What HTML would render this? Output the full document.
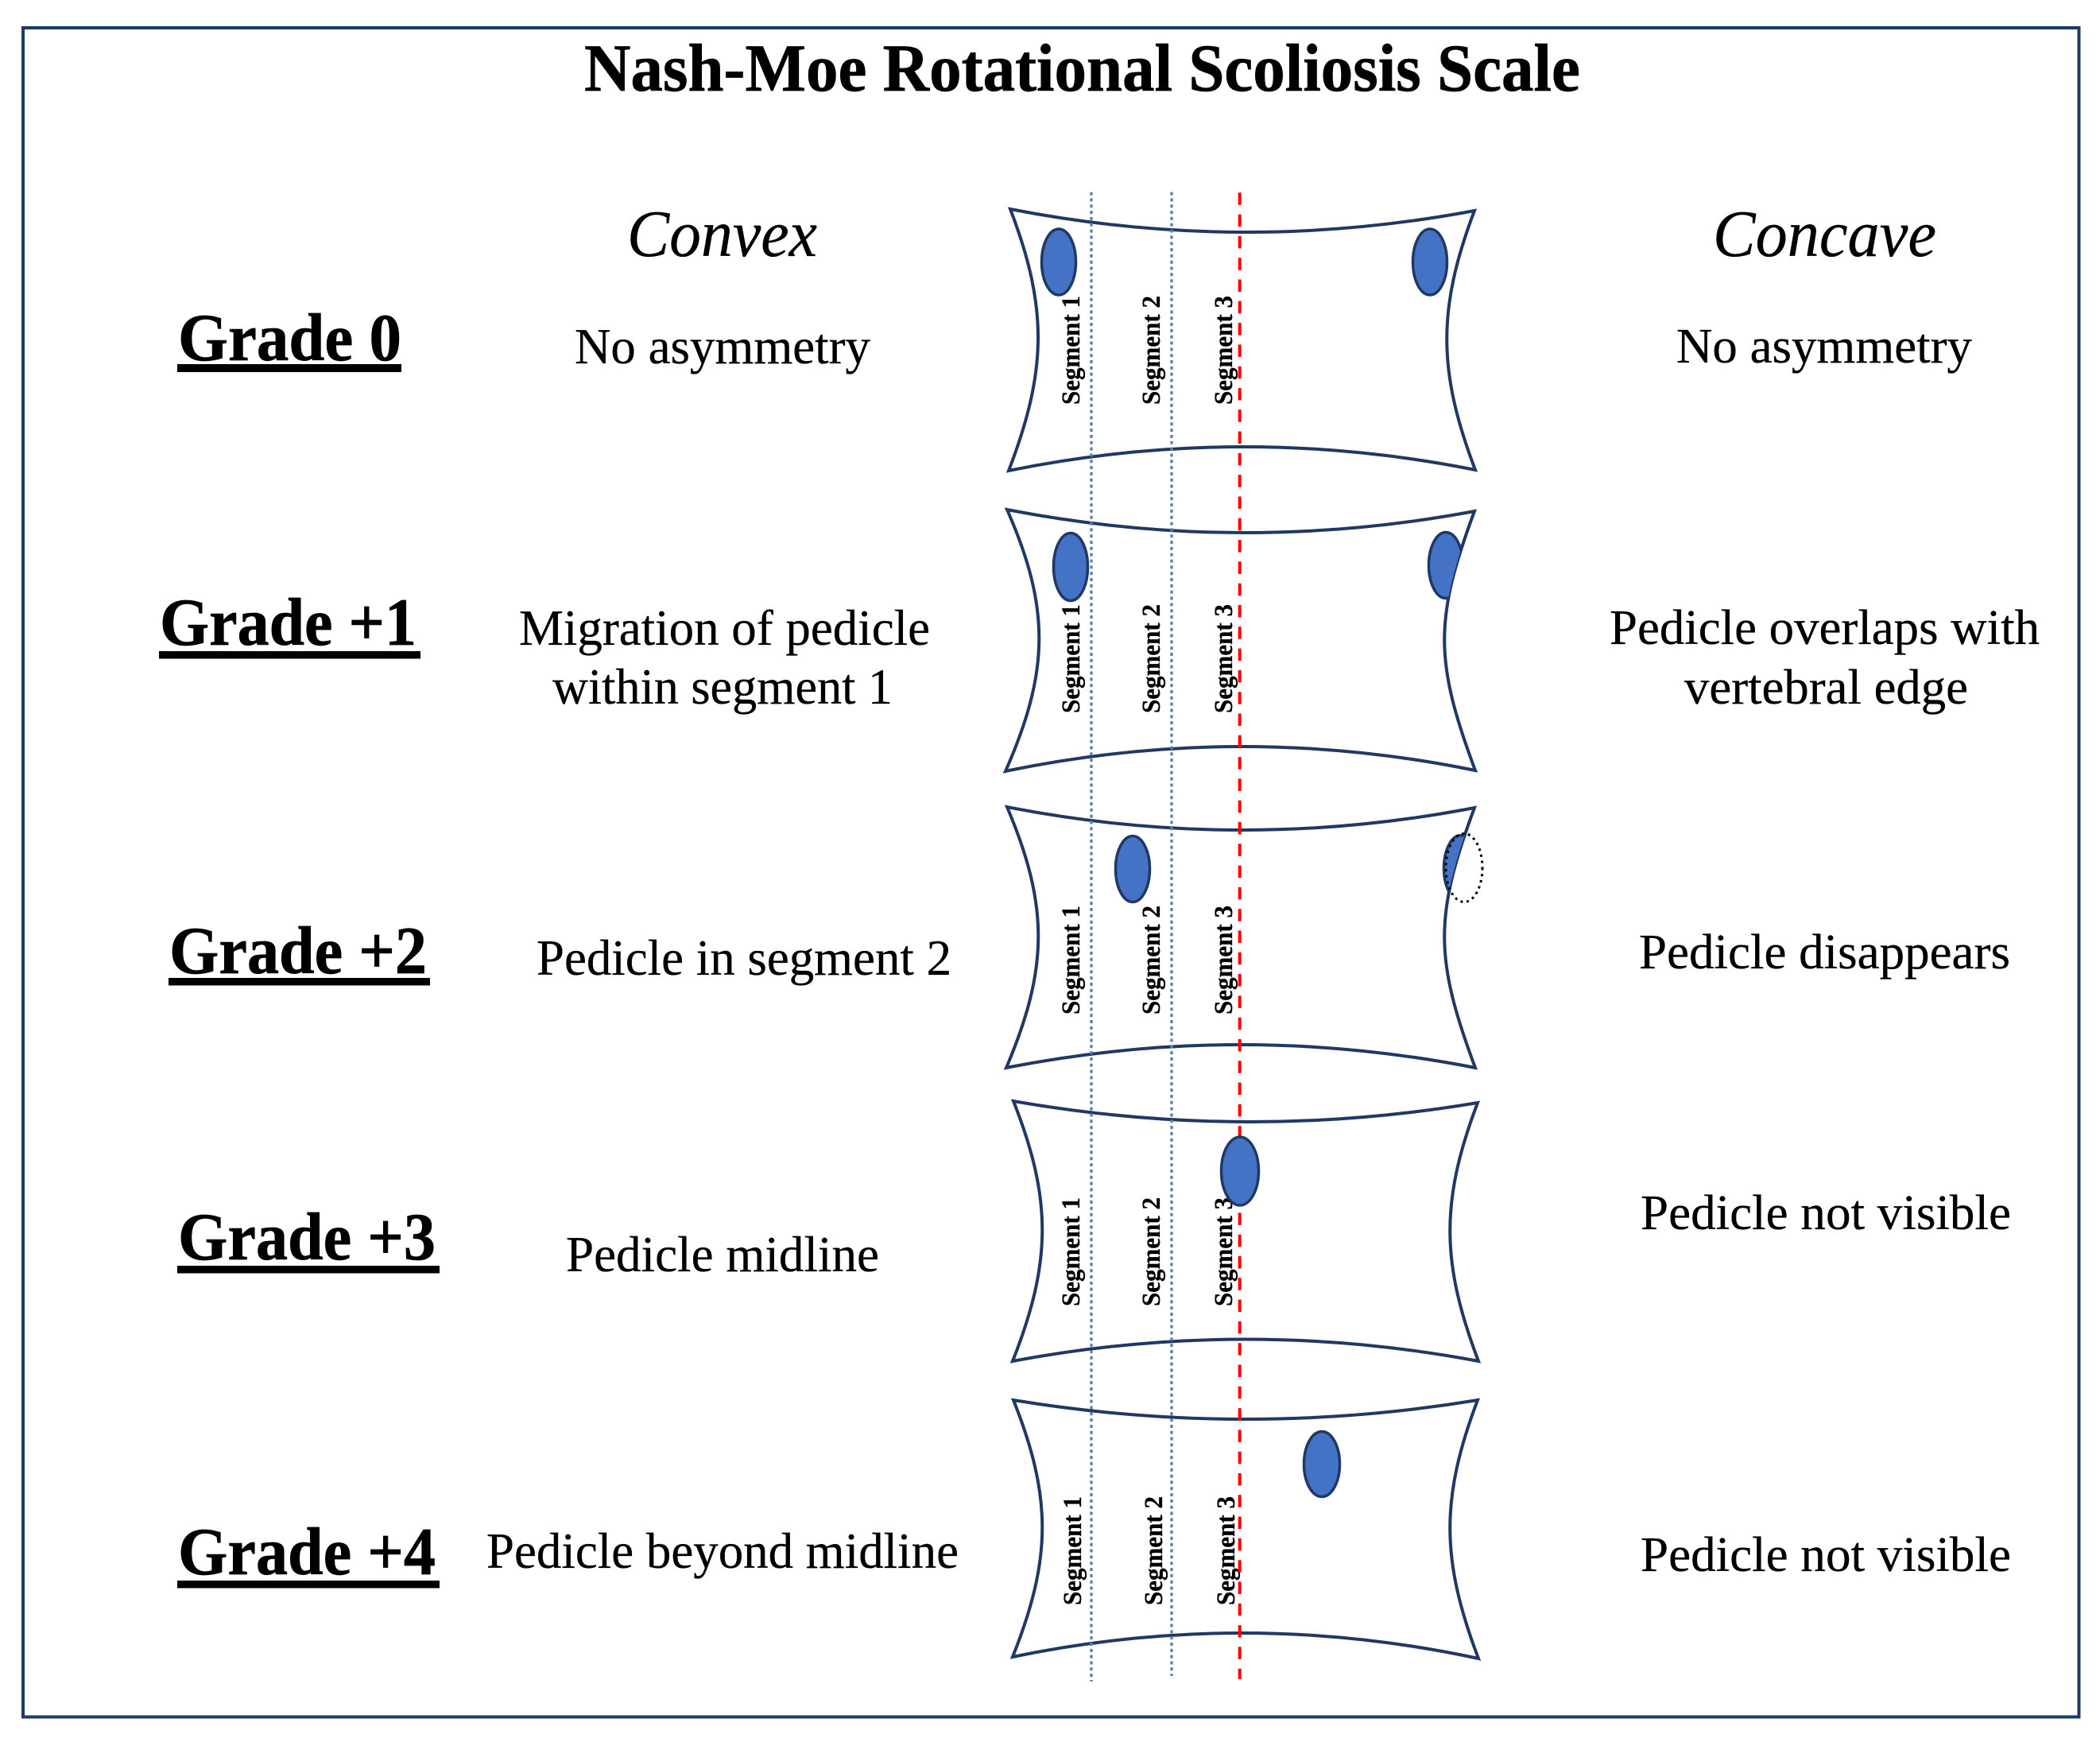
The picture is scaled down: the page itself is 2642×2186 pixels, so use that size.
<!DOCTYPE html>
<html>
<head>
<meta charset="utf-8">
<style>
html,body{margin:0;padding:0;background:#fff;}
svg{display:block;}
text{font-family:"Liberation Serif",serif;fill:#000;}
.t{font-size:85px;font-weight:bold;stroke:#000;stroke-width:.7px;}
.h{font-size:84px;font-style:italic;stroke:#000;stroke-width:.3px;}
.b{font-size:64px;stroke:#000;stroke-width:.3px;}
.br{font-size:62px;stroke:#000;stroke-width:.3px;}
.s{font-size:33px;font-weight:bold;stroke:#000;stroke-width:.3px;}
.v{fill:none;stroke:#203864;stroke-width:4;stroke-linejoin:miter;stroke-miterlimit:20;}
.e{fill:#4472c4;stroke:#203864;stroke-width:3.5;}
.d{stroke:#6080a8;stroke-width:3.4;stroke-dasharray:4 3.83;fill:none;}
.r{stroke:#ff0000;stroke-width:4;stroke-dasharray:15.5 11.8;fill:none;}
</style>
</head>
<body>
<svg xmlns="http://www.w3.org/2000/svg" width="2642" height="2186" viewBox="0 0 2642 2186">
<defs>
<clipPath id="c2"><path d="M1267 641Q1561 698 1855 643C1804 780 1805 832 1856 969Q1560 908.5 1265 970C1320 845 1322 766 1267 641Z"/></clipPath>
<clipPath id="c3"><path d="M1267 1015Q1561 1072.5 1855 1016C1804 1153 1805 1206 1856 1343Q1561 1285 1266 1343C1319 1218 1320 1140 1267 1015Z"/></clipPath>
</defs>
<rect width="2642" height="2186" fill="#fff"/>
<rect x="29" y="35" width="2586.5" height="2124.5" fill="none" stroke="#203864" stroke-width="4"/>

<text class="t" x="735" y="114" textLength="1253" lengthAdjust="spacingAndGlyphs">Nash-Moe Rotational Scoliosis Scale</text>
<text class="h" x="789" y="322" textLength="239" lengthAdjust="spacingAndGlyphs">Convex</text>
<text class="h" x="2155" y="322" textLength="281" lengthAdjust="spacingAndGlyphs">Concave</text>

<text class="t" x="224" y="453" textLength="281" lengthAdjust="spacingAndGlyphs">Grade 0</text>
<rect x="223" y="458" width="282" height="10"/>
<text class="t" x="201" y="811" textLength="323" lengthAdjust="spacingAndGlyphs">Grade +1</text>
<rect x="200" y="819" width="329" height="9.5"/>
<text class="t" x="213" y="1224" textLength="324" lengthAdjust="spacingAndGlyphs">Grade +2</text>
<rect x="212" y="1230" width="329" height="9.5"/>
<text class="t" x="224" y="1584" textLength="324" lengthAdjust="spacingAndGlyphs">Grade +3</text>
<rect x="223" y="1592" width="330" height="9.5"/>
<text class="t" x="224" y="1980" textLength="324" lengthAdjust="spacingAndGlyphs">Grade +4</text>
<rect x="223" y="1988" width="330" height="9.5"/>

<text class="b" x="723" y="457" textLength="372" lengthAdjust="spacingAndGlyphs">No asymmetry</text>
<text class="b" x="653" y="811" textLength="517" lengthAdjust="spacingAndGlyphs">Migration of pedicle</text>
<text class="b" x="695" y="885" textLength="428" lengthAdjust="spacingAndGlyphs">within segment 1</text>
<text class="b" x="675" y="1226" textLength="522" lengthAdjust="spacingAndGlyphs">Pedicle in segment 2</text>
<text class="b" x="712" y="1599" textLength="394" lengthAdjust="spacingAndGlyphs">Pedicle midline</text>
<text class="b" x="612" y="1972" textLength="594" lengthAdjust="spacingAndGlyphs">Pedicle beyond midline</text>

<text class="br" x="2109" y="456" textLength="372" lengthAdjust="spacingAndGlyphs">No asymmetry</text>
<text class="br" x="2025" y="810" textLength="541" lengthAdjust="spacingAndGlyphs">Pedicle overlaps with</text>
<text class="br" x="2119" y="885" textLength="357" lengthAdjust="spacingAndGlyphs">vertebral edge</text>
<text class="br" x="2062" y="1218" textLength="467" lengthAdjust="spacingAndGlyphs">Pedicle disappears</text>
<text class="br" x="2064" y="1546" textLength="466" lengthAdjust="spacingAndGlyphs">Pedicle not visible</text>
<text class="br" x="2064" y="1976" textLength="466" lengthAdjust="spacingAndGlyphs">Pedicle not visible</text>

<g>
<text class="s" transform="translate(1358,509) rotate(-90)" textLength="137" lengthAdjust="spacingAndGlyphs">Segment 1</text>
<text class="s" transform="translate(1459,509) rotate(-90)" textLength="137" lengthAdjust="spacingAndGlyphs">Segment 2</text>
<text class="s" transform="translate(1550,509) rotate(-90)" textLength="137" lengthAdjust="spacingAndGlyphs">Segment 3</text>
<text class="s" transform="translate(1358,897) rotate(-90)" textLength="137" lengthAdjust="spacingAndGlyphs">Segment 1</text>
<text class="s" transform="translate(1459,897) rotate(-90)" textLength="137" lengthAdjust="spacingAndGlyphs">Segment 2</text>
<text class="s" transform="translate(1550,897) rotate(-90)" textLength="137" lengthAdjust="spacingAndGlyphs">Segment 3</text>
<text class="s" transform="translate(1358,1276) rotate(-90)" textLength="137" lengthAdjust="spacingAndGlyphs">Segment 1</text>
<text class="s" transform="translate(1459,1276) rotate(-90)" textLength="137" lengthAdjust="spacingAndGlyphs">Segment 2</text>
<text class="s" transform="translate(1550,1276) rotate(-90)" textLength="137" lengthAdjust="spacingAndGlyphs">Segment 3</text>
<text class="s" transform="translate(1358,1643) rotate(-90)" textLength="137" lengthAdjust="spacingAndGlyphs">Segment 1</text>
<text class="s" transform="translate(1459,1643) rotate(-90)" textLength="137" lengthAdjust="spacingAndGlyphs">Segment 2</text>
<text class="s" transform="translate(1550,1643) rotate(-90)" textLength="137" lengthAdjust="spacingAndGlyphs">Segment 3</text>
<text class="s" transform="translate(1360,2019) rotate(-90)" textLength="137" lengthAdjust="spacingAndGlyphs">Segment 1</text>
<text class="s" transform="translate(1462,2019) rotate(-90)" textLength="137" lengthAdjust="spacingAndGlyphs">Segment 2</text>
<text class="s" transform="translate(1553,2019) rotate(-90)" textLength="137" lengthAdjust="spacingAndGlyphs">Segment 3</text>
</g>

<path class="v" d="M1271 263Q1563 320 1855 265C1808 389 1809 467 1856 591Q1562 532.5 1269 592C1317 467 1319 388 1271 263Z"/>
<path class="v" d="M1267 641Q1561 698 1855 643C1804 780 1805 832 1856 969Q1560 908.5 1265 970C1320 845 1322 766 1267 641Z"/>
<path class="v" d="M1267 1015Q1561 1072.5 1855 1016C1804 1153 1805 1206 1856 1343Q1561 1285 1266 1343C1319 1218 1320 1140 1267 1015Z"/>
<path class="v" d="M1275 1385Q1567 1436 1859 1387C1812 1511 1813 1588 1860 1712Q1567 1657 1274 1712C1323 1588 1324 1509 1275 1385Z"/>
<path class="v" d="M1275 1761Q1567 1809 1859 1761C1812 1885 1813 1962 1860 2086Q1567 2023 1274 2084C1323 1961 1324 1884 1275 1761Z"/>

<line class="d" x1="1373" y1="241.6" x2="1373" y2="2115"/>
<line class="d" x1="1474" y1="241.6" x2="1474" y2="2108"/>
<line class="r" x1="1559.7" y1="242.3" x2="1559.7" y2="2112"/>

<ellipse class="e" cx="1332" cy="329.5" rx="21.5" ry="41.5"/>
<ellipse class="e" cx="1799" cy="329.5" rx="21.5" ry="41.5"/>
<ellipse class="e" cx="1347" cy="713" rx="21.5" ry="42.5"/>
<ellipse class="e" cx="1819" cy="711" rx="21.5" ry="41.5" clip-path="url(#c2)"/>
<ellipse class="e" cx="1425" cy="1093" rx="21.5" ry="41.5"/>
<ellipse class="e" cx="1838" cy="1092" rx="21.5" ry="41.5" clip-path="url(#c3)"/>
<ellipse cx="1842" cy="1091.5" rx="23" ry="43" fill="none" stroke="#000" stroke-width="3" stroke-dasharray="3 4.8"/>
<ellipse class="e" cx="1560" cy="1473" rx="23.5" ry="43"/>
<ellipse class="e" cx="1663" cy="1841.5" rx="22.5" ry="41"/>
</svg>
</body>
</html>
